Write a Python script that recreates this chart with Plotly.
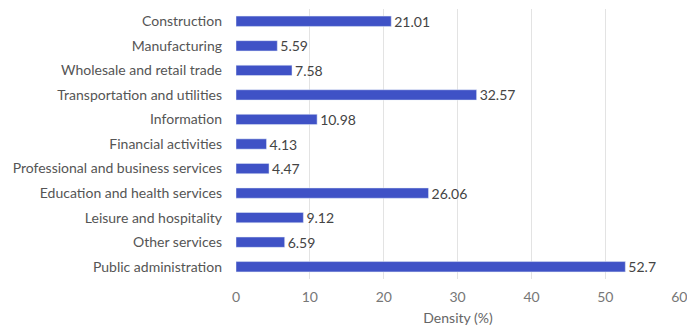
import plotly.graph_objects as go

categories = ["Construction", "Manufacturing", "Wholesale and retail trade",
              "Transportation and utilities", "Information", "Financial activities",
              "Professional and business services", "Education and health services",
              "Leisure and hospitality", "Other services", "Public administration"]
values = [21.01, 5.59, 7.58, 32.57, 10.98, 4.13, 4.47, 26.06, 9.12, 6.59, 52.7]
tick_vals = [0, 10, 20, 30, 40, 50, 60]

fig = go.Figure(go.Bar(
    x=values, y=categories, orientation="h",
    marker=dict(color="#3f52c6"),
    text=[str(v) for v in values], textposition="outside",
    constraintext="none",
    textfont=dict(size=14, color="#444444", family="Lato"),
    cliponaxis=False, width=0.42,
))
fig.update_layout(
    width=687, height=328,
    margin=dict(l=236, r=7, t=9, b=49, autoexpand=False),
    paper_bgcolor="white", plot_bgcolor="white",
    font=dict(family="Lato", size=14, color="#555555"),
    showlegend=False,
    xaxis=dict(range=[0, 60.1], tickvals=tick_vals, showgrid=True, gridcolor="#e3e3e3",
               zeroline=False, showline=False, ticks="", ticklabelstandoff=8,
               ticklabeloverflow="allow", automargin=False,
               tickfont=dict(size=14, color="#777777"),
               title=dict(text="Density (%)", font=dict(size=14, color="#666666"), standoff=9)),
    yaxis=dict(categoryorder="array", categoryarray=categories[::-1], showgrid=False,
               ticks="", ticklen=0, ticklabelstandoff=13, automargin=False,
               tickfont=dict(size=14, color="#555555")),
)
fig.write_html("out.html")
